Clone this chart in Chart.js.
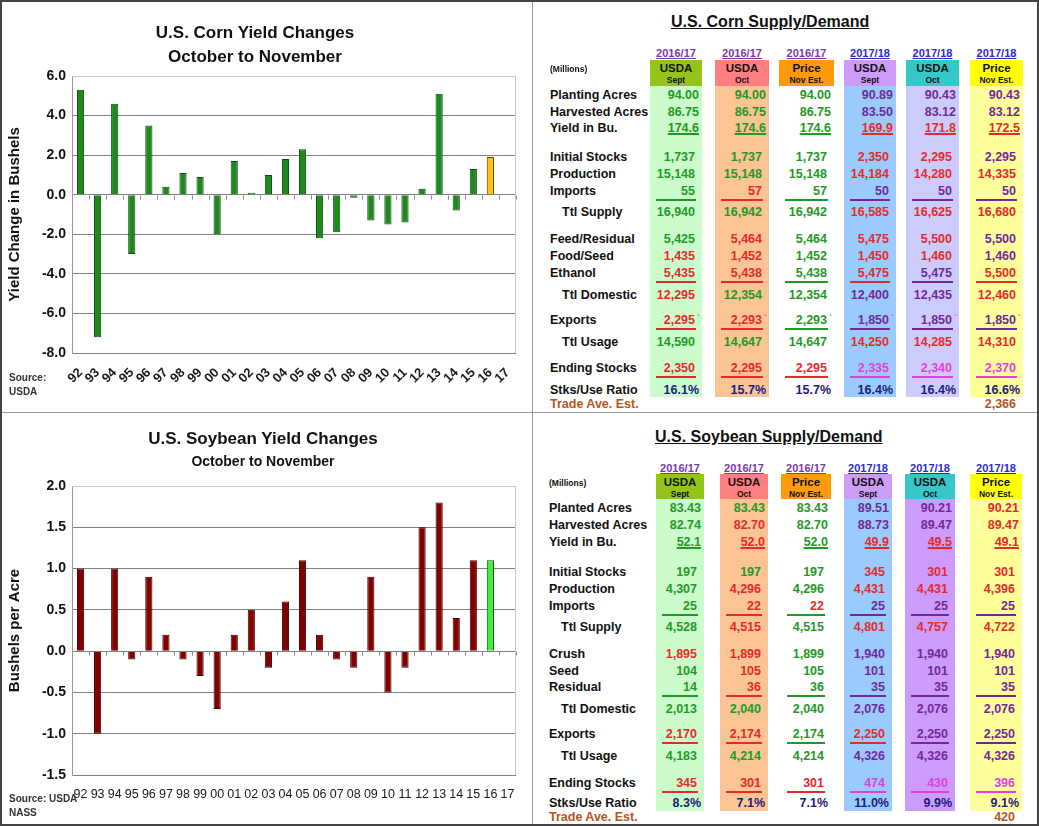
<!DOCTYPE html>
<html>
<head>
<meta charset="utf-8">
<script src="https://cdn.jsdelivr.net/npm/chart.js@4.4.0/dist/chart.umd.min.js"></script>
<style>
  body { margin: 0; background: #fff; font-family: "Liberation Sans", Arial, sans-serif; }
  #page { position: relative; width: 1039px; height: 826px; overflow: hidden; background: #fff; }
  #frame { position: absolute; left: 0; top: 0; width: 1039px; height: 826px; box-sizing: border-box; border: 2px solid #444; pointer-events: none; }
  .t { position: absolute; white-space: nowrap; font-weight: bold; line-height: 16px; color: #111; }
  .ctr { text-align: center; }
  canvas { position: absolute; left: 0; }
  .hline { position: absolute; height: 2px; }
  .box { position: absolute; }
</style>
</head>
<body>
<div id="page">
  <canvas id="corn" width="530" height="410" style="top:0"></canvas>
  <canvas id="soy" width="530" height="414" style="top:412px"></canvas>

  <div class="t ctr" style="left:0;width:510px;top:21px;font-size:17px;line-height:24px">U.S. Corn Yield Changes<br>October to November</div>
  <div class="t" style="left:9px;top:371px;font-size:10px;line-height:14px;color:#333">Source:<br>USDA</div>

  <div class="t ctr" style="left:0;width:526px;top:428px;font-size:17px;line-height:22px">U.S. Soybean Yield Changes</div>
  <div class="t ctr" style="left:0;width:526px;top:452px;font-size:14px;line-height:18px">October to November</div>
  <div class="t" style="left:9px;top:792px;font-size:10px;line-height:14px;color:#333">Source: USDA<br>NASS</div>

  <div style="position:absolute;left:532px;top:0;width:1px;height:826px;background:#999"></div>
  <div style="position:absolute;left:0;top:412px;width:1039px;height:1px;background:#999"></div>
  <div id="tables"></div>
  <div id="frame"></div>
</div>

<script>
// ---- bar charts ----
const years = ['92','93','94','95','96','97','98','99','00','01','02','03','04','05','06','07','08','09','10','11','12','13','14','15','16','17'];
const cornChange = [5.3, -7.2, 4.6, -3.0, 3.5, 0.4, 1.1, 0.9, -2.0, 1.7, 0.1, 1.0, 1.8, 2.3, -2.2, -1.9, -0.15, -1.3, -1.5, -1.4, 0.3, 5.1, -0.8, 1.3, 1.9, null];
const soyChange = [1.0, -1.0, 1.0, -0.1, 0.9, 0.2, -0.1, -0.3, -0.7, 0.2, 0.5, -0.2, 0.6, 1.1, 0.2, -0.1, -0.2, 0.9, -0.5, -0.2, 1.5, 1.8, 0.4, 1.1, 1.1, null];
const cornTicks = { min: -8, max: 6, step: 2 };
const soyTicks = { min: -1.5, max: 2, step: 0.5 };

// ---- supply / demand tables ----
const mktYears = ['2016/17', '2016/17', '2016/17', '2017/18', '2017/18', '2017/18'];
const srcTop = ['USDA', 'USDA', 'Price', 'USDA', 'USDA', 'Price'];
const srcSub = ['Sept', 'Oct', 'Nov Est.', 'Sept', 'Oct', 'Nov Est.'];

const cornLabels = ['Planting Acres', 'Harvested Acres', 'Yield in Bu.', 'Initial Stocks', 'Production', 'Imports', 'Ttl Supply',
  'Feed/Residual', 'Food/Seed', 'Ethanol', 'Ttl Domestic', 'Exports', 'Ttl Usage', 'Ending Stocks', 'Stks/Use Ratio'];
const cornValues = [
  ['94.00', '94.00', '94.00', '90.89', '90.43', '90.43'],
  ['86.75', '86.75', '86.75', '83.50', '83.12', '83.12'],
  ['174.6', '174.6', '174.6', '169.9', '171.8', '172.5'],
  ['1,737', '1,737', '1,737', '2,350', '2,295', '2,295'],
  ['15,148', '15,148', '15,148', '14,184', '14,280', '14,335'],
  ['55', '57', '57', '50', '50', '50'],
  ['16,940', '16,942', '16,942', '16,585', '16,625', '16,680'],
  ['5,425', '5,464', '5,464', '5,475', '5,500', '5,500'],
  ['1,435', '1,452', '1,452', '1,450', '1,460', '1,460'],
  ['5,435', '5,438', '5,438', '5,475', '5,475', '5,500'],
  ['12,295', '12,354', '12,354', '12,400', '12,435', '12,460'],
  ['2,295', '2,293', '2,293', '1,850', '1,850', '1,850'],
  ['14,590', '14,647', '14,647', '14,250', '14,285', '14,310'],
  ['2,350', '2,295', '2,295', '2,335', '2,340', '2,370'],
  ['16.1%', '15.7%', '15.7%', '16.4%', '16.4%', '16.6%']
];
const cornTradeEst = '2,366';

const soyLabels = ['Planted Acres', 'Harvested Acres', 'Yield in Bu.', 'Initial Stocks', 'Production', 'Imports', 'Ttl Supply',
  'Crush', 'Seed', 'Residual', 'Ttl Domestic', 'Exports', 'Ttl Usage', 'Ending Stocks', 'Stks/Use Ratio'];
const soyValues = [
  ['83.43', '83.43', '83.43', '89.51', '90.21', '90.21'],
  ['82.74', '82.70', '82.70', '88.73', '89.47', '89.47'],
  ['52.1', '52.0', '52.0', '49.9', '49.5', '49.1'],
  ['197', '197', '197', '345', '301', '301'],
  ['4,307', '4,296', '4,296', '4,431', '4,431', '4,396'],
  ['25', '22', '22', '25', '25', '25'],
  ['4,528', '4,515', '4,515', '4,801', '4,757', '4,722'],
  ['1,895', '1,899', '1,899', '1,940', '1,940', '1,940'],
  ['104', '105', '105', '101', '101', '101'],
  ['14', '36', '36', '35', '35', '35'],
  ['2,013', '2,040', '2,040', '2,076', '2,076', '2,076'],
  ['2,170', '2,174', '2,174', '2,250', '2,250', '2,250'],
  ['4,183', '4,214', '4,214', '4,326', '4,326', '4,326'],
  ['345', '301', '301', '474', '430', '396'],
  ['8.3%', '7.1%', '7.1%', '11.0%', '9.9%', '9.1%']
];
const soyTradeEst = '420';

// styling (text colour codes per row, underline colour codes)
const ink = { G: '#1f9a26', R: '#e62a2a', P: '#72289a', M: '#e83ce0', N: '#1c1c7c' };
const cornInk = ['GGGPPP', 'GGGPPP', 'GGGRRR', 'GGGRRP', 'GGGRRR', 'GRGPPP', 'GGGRRR', 'GRGRRP', 'RRGRRP', 'RRGRPR', 'RGGPPR', 'RRGPPP', 'GGGRRR', 'RRRMMM', 'NNNNNN'];
const cornRule = { 5: 'GRGPPP', 9: 'RRGRPR', 11: 'RRGPPP', 13: 'RRRMMM' };
const soyInk = ['GGGPPR', 'GRGPPR', 'GRGRRR', 'GGGRRR', 'GRGRRR', 'GRRPPP', 'GRGRRR', 'RRGPPP', 'GRGPPP', 'GRGPPP', 'GGGPPP', 'RRGRPP', 'GGGPPP', 'RRRMMM', 'NNNNNN'];
const soyRule = { 5: 'GRGPPP', 9: 'GRGPPP', 11: 'RRGRPP', 13: 'RRRMMM' };
const headFill = ['#94c418', '#ff7f80', '#ff9a0a', '#cc9cf8', '#36c8c8', '#ffff00'];

function addText(parent, txt, css) {
  const d = document.createElement('div');
  d.className = 't';
  d.textContent = txt;
  Object.assign(d.style, css);
  parent.appendChild(d);
  return d;
}
function addBox(parent, x, y, w, h, bg) {
  const d = document.createElement('div');
  d.className = 'box';
  Object.assign(d.style, { left: x + 'px', top: y + 'px', width: w + 'px', height: h + 'px', background: bg });
  parent.appendChild(d);
}

function buildTable(cfg) {
  const root = document.getElementById('tables');
  addText(root, cfg.title + ' ', { left: cfg.titleX + 'px', top: (cfg.titleY - 10) + 'px', fontSize: '16px', lineHeight: '20px', textDecoration: 'underline', color: '#111' });
  addText(root, '(Millions)', { left: cfg.labelX + 'px', top: (cfg.millY - 8) + 'px', fontSize: '8.5px' });
  cfg.cols.forEach((c, i) => {
    const [l, r] = c;
    if (cfg.colFill[i]) addBox(root, l, cfg.boxBottom, r - l, cfg.fillBottom - cfg.boxBottom, cfg.colFill[i]);
    addBox(root, l, cfg.boxTop, r - l, cfg.boxBottom - cfg.boxTop, headFill[i]);
    addText(root, mktYears[i], { left: (l - 10) + 'px', width: (r - l + 20) + 'px', textAlign: 'center', top: (cfg.yearY - 8) + 'px', fontSize: '11px', textDecoration: 'underline', color: i < 3 ? '#7a3aa8' : '#2a2ad0' });
    addText(root, srcTop[i], { left: l + 'px', width: (r - l) + 'px', textAlign: 'center', top: (cfg.boxTop + 1) + 'px', fontSize: '11.5px', lineHeight: '14px' });
    addText(root, srcSub[i], { left: l + 'px', width: (r - l) + 'px', textAlign: 'center', top: (cfg.boxTop + 15) + 'px', fontSize: '8.5px', lineHeight: '10px' });
  });
  cfg.labels.forEach((lab, row) => {
    const y = cfg.rowY[row];
    const indent = lab.startsWith('Ttl ');
    addText(root, lab, { left: (indent ? cfg.labelX + 12 : cfg.labelX) + 'px', top: (y - 8) + 'px', fontSize: '12.5px' });
    cfg.values[row].forEach((v, i) => {
      const [l, r] = cfg.cols[i];
      const col = ink[cfg.ink[row][i]];
      const right = v.includes('.') ? r - 3 : r - 7;
      const d = addText(root, v, { left: (right - 60) + 'px', width: '60px', textAlign: 'right', top: (y - 8) + 'px', fontSize: '12.5px', color: col });
      if (row === 2) { d.style.textDecoration = 'underline'; d.style.textDecorationThickness = '1.5px'; }
      if (cfg.rule[row]) {
        const ln = document.createElement('div');
        ln.className = 'hline';
        Object.assign(ln.style, { left: (l + 6) + 'px', width: (r - l - 12) + 'px', top: (y + 8) + 'px', background: ink[cfg.rule[row][i]] });
        root.appendChild(ln);
      }
      if (cfg.tickRow === row) addText(root, '`', { left: (r - 5) + 'px', top: (y - 10) + 'px', fontSize: '9px', color: '#e0506a' });
    });
  });
  addText(root, 'Trade Ave. Est.', { left: cfg.labelX + 'px', top: (cfg.tradeY - 8) + 'px', fontSize: '12.5px', color: '#b4561e' });
  const lastR = cfg.cols[5][1];
  addText(root, cfg.tradeEst, { left: (lastR - 67) + 'px', width: '60px', textAlign: 'right', top: (cfg.tradeY - 8) + 'px', fontSize: '12.5px', color: '#b4561e' });
}

buildTable({
  title: 'U.S. Corn Supply/Demand', titleX: 671, titleY: 22, millY: 69, yearY: 53,
  labelX: 550, labels: cornLabels, values: cornValues, ink: cornInk, rule: cornRule, tickRow: 11,
  rowY: [95, 112, 128, 157, 174, 191, 212, 239, 256, 273, 295, 320, 342, 368, 390], tradeY: 404, tradeEst: cornTradeEst,
  cols: [[650, 702], [715, 769], [779, 834], [844, 896], [906, 959], [970, 1023]],
  boxTop: 60, boxBottom: 86, fillBottom: 397,
  colFill: ['#ccfccc', '#fac494', null, '#9acbfc', '#ccccfc', '#ffff9c']
});
buildTable({
  title: 'U.S. Soybean Supply/Demand', titleX: 655, titleY: 437, millY: 483, yearY: 468,
  labelX: 549, labels: soyLabels, values: soyValues, ink: soyInk, rule: soyRule, tickRow: -1,
  rowY: [508, 525, 542, 572, 589, 606, 627, 654, 671, 687, 709, 734, 756, 783, 803], tradeY: 817, tradeEst: soyTradeEst,
  cols: [[656, 704], [720, 768], [781, 831], [844, 892], [905, 955], [970, 1022]],
  boxTop: 474, boxBottom: 499, fillBottom: 811,
  colFill: ['#ccfccc', '#fac494', null, '#9acbfc', '#cc9cfc', '#ffff9c']
});

// light frame on top/right of plot + little ticks under the zero line
const plotFrame = {
  id: 'plotFrame',
  afterDraw(chart) {
    const { ctx, chartArea: a, scales: { x, y } } = chart;
    ctx.save();
    ctx.strokeStyle = '#c8c8c8';
    ctx.lineWidth = 1;
    ctx.beginPath();
    ctx.moveTo(a.left, a.top + 0.5); ctx.lineTo(a.right - 0.5, a.top + 0.5); ctx.lineTo(a.right - 0.5, a.bottom);
    ctx.stroke();
    const zy = Math.round(y.getPixelForValue(0)) + 0.5;
    const n = x.ticks.length;
    const step = (a.right - a.left) / n;
    ctx.strokeStyle = '#888';
    ctx.beginPath();
    for (let i = 1; i <= n; i++) {
      const px = Math.round(a.left + i * step) + 0.5;
      ctx.moveTo(px, zy); ctx.lineTo(px, zy + 4);
    }
    ctx.stroke();
    ctx.restore();
  }
};

function yieldChart(id, data, fill, edge, last, lastEdge, rng, yTitle, xFont, rot, padTop, xHeight) {
  return new Chart(document.getElementById(id), {
    type: 'bar',
    data: {
      labels: years,
      datasets: [{
        data: data,
        backgroundColor: data.map((v, i) => i === 24 ? last : fill),
        borderColor: data.map((v, i) => i === 24 ? lastEdge : edge),
        borderWidth: 1,
        barPercentage: 0.42,
        categoryPercentage: 1
      }]
    },
    options: {
      responsive: false,
      animation: false,
      layout: { padding: { top: padTop, right: 14, bottom: 0, left: 0 } },
      plugins: { legend: { display: false }, tooltip: { enabled: false } },
      scales: {
        x: {
          grid: { display: false },
          border: { display: false },
          afterFit: s => { s.height = xHeight; },
          ticks: { font: xFont, color: '#1a1a1a', maxRotation: rot, minRotation: rot, autoSkip: false, padding: 4 }
        },
        y: {
          min: rng.min, max: rng.max,
          afterFit: s => { s.width = 72; },
          border: { color: '#9a9a9a' },
          grid: {
            drawTicks: false,
            color: c => c.tick && c.tick.value === rng.max ? '#c8c8c8' : '#808080'
          },
          ticks: {
            stepSize: rng.step, padding: 6, color: '#111',
            font: { family: 'Liberation Sans', size: 14, weight: 'bold' },
            callback: v => Number(v).toFixed(1)
          },
          title: {
            display: true, text: yTitle, color: '#111', padding: { top: 6, bottom: 0 },
            font: { family: 'Liberation Sans', size: 15, weight: 'bold' }
          }
        }
      }
    },
    plugins: [plotFrame]
  });
}

yieldChart('corn', cornChange, '#1e8a1e', '#0c4a0c', '#ffc20e', '#5a4400', cornTicks, 'Yield Change in Bushels',
  { family: 'Liberation Sans', size: 13, weight: 'bold' }, 45, 76, 57);
yieldChart('soy', soyChange, '#820000', '#3c0000', '#3ef03e', '#145014', soyTicks, 'Bushels per Acre',
  { family: 'Liberation Sans', size: 12.5 }, 0, 74, 51);
</script>
</body>
</html>
